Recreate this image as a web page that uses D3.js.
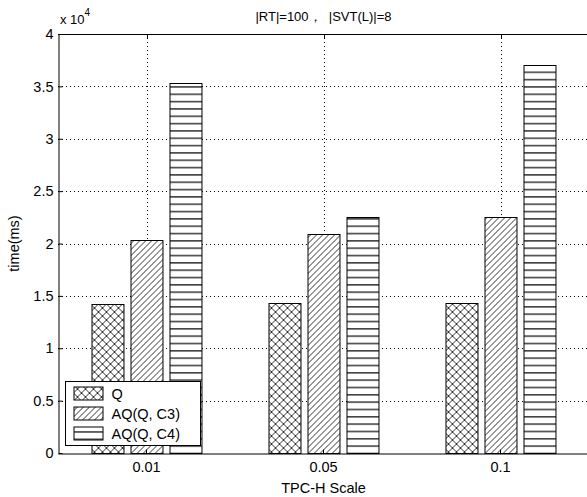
<!DOCTYPE html>
<html>
<head>
<meta charset="utf-8">
<script src="https://cdn.jsdelivr.net/npm/d3@7"></script>
<style>
  body { margin: 0; background: #fff; }
  svg { display: block; }
  text { font-family: "Liberation Sans", Arial, sans-serif; fill: #000; }
  .labelText { font-size: 14.5px; }
  .titleText { font-size: 13px; }
</style>
</head>
<body>
<svg id="svg_time" width="587" height="497"></svg>
<script>
const categories = ['0.01', '0.05', '0.1'];
const seriesNames = ['Q', 'AQ(Q, C3)', 'AQ(Q, C4)'];
const valuesQ = [14200, 14300, 14300];
const valuesC3 = [20300, 20900, 22550];
const valuesC4 = [35350, 22550, 37000];
const yTicks = [0, 0.5, 1, 1.5, 2, 2.5, 3, 3.5, 4];

const width = 587;
const height = 497;
const plotLeft = 58;
const plotRight = 589;
const plotTop = 34;
const plotBottom = 453;

const svg = d3.select('#svg_time');
svg.append('rect').attr('width', width).attr('height', height).attr('fill', '#fff');

// hatch patterns
const defs = svg.append('defs');
const crossHatch = defs.append('pattern')
  .attr('id', 'hatchQ').attr('patternUnits', 'userSpaceOnUse')
  .attr('width', 8).attr('height', 8);
crossHatch.append('rect').attr('width', 8).attr('height', 8).attr('fill', '#fff');
crossHatch.append('path').attr('d', 'M0,0 L8,8 M8,0 L0,8 M-1,7 L1,9 M7,-1 L9,1 M-1,1 L1,-1 M7,9 L9,7')
  .attr('stroke', '#333').attr('stroke-width', 1);

const diagHatch = defs.append('pattern')
  .attr('id', 'hatchC3').attr('patternUnits', 'userSpaceOnUse')
  .attr('width', 6).attr('height', 6);
diagHatch.append('rect').attr('width', 6).attr('height', 6).attr('fill', '#fff');
diagHatch.append('path').attr('d', 'M0,6 L6,0 M-1,1 L1,-1 M5,7 L7,5')
  .attr('stroke', '#333').attr('stroke-width', 1);

const horizHatch = defs.append('pattern')
  .attr('id', 'hatchC4').attr('patternUnits', 'userSpaceOnUse')
  .attr('width', 8).attr('height', 7.33);
horizHatch.append('rect').attr('width', 8).attr('height', 7.33).attr('fill', '#fff');
horizHatch.append('rect').attr('y', 5.5).attr('width', 8).attr('height', 1.6).attr('fill', '#444');

const fills = ['url(#hatchQ)', 'url(#hatchC3)', 'url(#hatchC4)'];

const x = d3.scaleBand().domain(categories).range([plotLeft, plotRight]).padding(0);
const inner = d3.scaleBand().domain(seriesNames)
  .range([-x.bandwidth() / 2 + 30, x.bandwidth() / 2 - 30])
  .paddingInner(0.18).paddingOuter(0.09);
const y = d3.scaleLinear().domain([0, 40000]).range([plotBottom, plotTop]);

// grid
const grid = svg.append('g').attr('stroke', '#000').attr('stroke-dasharray', '1,3');
grid.selectAll('line.h').data(yTicks.slice(1, -1)).enter().append('line')
  .attr('x1', plotLeft).attr('x2', plotRight)
  .attr('y1', (d) => Math.round(y(d * 1e4)) + 0.5).attr('y2', (d) => Math.round(y(d * 1e4)) + 0.5);
grid.selectAll('line.v').data(categories).enter().append('line')
  .attr('x1', (d) => Math.round(x(d) + x.bandwidth() / 2) + 0.5)
  .attr('x2', (d) => Math.round(x(d) + x.bandwidth() / 2) + 0.5)
  .attr('y1', plotTop).attr('y2', plotBottom);

// bars
const series = [valuesQ, valuesC3, valuesC4];
const groups = svg.append('g').selectAll('g').data(categories).enter().append('g')
  .attr('transform', (d) => `translate(${x(d) + x.bandwidth() / 2},0)`);
groups.selectAll('rect').data((d, i) => series.map((s, j) => ({ name: seriesNames[j], value: s[i], j })))
  .enter().append('rect')
  .attr('x', (d) => Math.round(inner(d.name)) + 0.5)
  .attr('width', inner.bandwidth())
  .attr('y', (d) => Math.round(y(d.value)) + 0.5)
  .attr('height', (d) => Math.round(y(0)) - Math.round(y(d.value)))
  .attr('fill', (d) => fills[d.j])
  .attr('stroke', '#000').attr('stroke-width', 1);

// axes box
const yAxis = d3.axisLeft(y).tickValues(yTicks.map((d) => d * 1e4))
  .tickFormat((d) => d3.format('~g')(d / 1e4)).tickSizeInner(-4).tickSizeOuter(0).tickPadding(5);
const yG = svg.append('g').attr('transform', `translate(${plotLeft + 0.5},0)`).call(yAxis);
const xAxis = d3.axisBottom(x).tickSizeInner(-4).tickSizeOuter(0).tickPadding(8);
const xG = svg.append('g').attr('transform', `translate(0,${plotBottom + 0.5})`).call(xAxis);
[yG, xG].forEach((g) => {
  g.selectAll('path, line').attr('stroke', '#000');
  g.selectAll('text').attr('class', 'labelText').attr('fill', '#000');
});
svg.append('line').attr('x1', plotLeft).attr('x2', plotRight).attr('y1', plotTop + 0.5).attr('y2', plotTop + 0.5)
  .attr('stroke', '#000');
svg.append('line').attr('x1', plotRight - 0.5).attr('x2', plotRight - 0.5).attr('y1', plotTop).attr('y2', plotBottom)
  .attr('stroke', '#000');

// top ticks
svg.append('g').selectAll('line').data(categories).enter().append('line')
  .attr('x1', (d) => Math.round(x(d) + x.bandwidth() / 2) + 0.5)
  .attr('x2', (d) => Math.round(x(d) + x.bandwidth() / 2) + 0.5)
  .attr('y1', plotTop).attr('y2', plotTop + 4).attr('stroke', '#000');

// texts
svg.append('text').attr('class', 'titleText')
  .attr('x', (plotLeft + plotRight) / 2).attr('y', 21).attr('text-anchor', 'middle')
  .style('white-space', 'pre')
  .text('|RT|=100，  |SVT(L)|=8');

const expo = svg.append('text').attr('class', 'titleText').attr('x', 60).attr('y', 24);
expo.append('tspan').text('x 10');
expo.append('tspan').attr('dy', -8).attr('font-size', '10px').text('4');

svg.append('text').attr('class', 'labelText')
  .attr('transform', `translate(19,${(plotTop + plotBottom) / 2}) rotate(-90)`)
  .attr('text-anchor', 'middle').text('time(ms)');

svg.append('text').attr('class', 'labelText')
  .attr('x', (plotLeft + plotRight) / 2).attr('y', 493).attr('text-anchor', 'middle')
  .text('TPC-H Scale');

// legend
const legend = svg.append('g').attr('transform', 'translate(65.5,381.5)');
legend.append('rect').attr('width', 135).attr('height', 64)
  .attr('fill', '#fff').attr('stroke', '#000');
const items = legend.selectAll('g').data(seriesNames).enter().append('g')
  .attr('transform', (d, i) => `translate(0,${11.5 + i * 20})`);
items.append('rect').attr('x', 8.5).attr('y', -6).attr('width', 29).attr('height', 13)
  .attr('fill', (d, i) => fills[i]).attr('stroke', '#000');
items.append('text').attr('class', 'labelText').attr('x', 46).attr('y', 5.5).text((d) => d);
</script>
</body>
</html>
